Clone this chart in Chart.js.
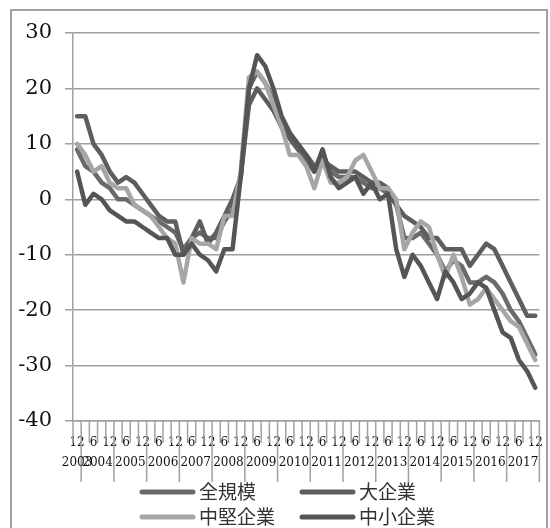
<!DOCTYPE html>
<html>
<head>
<meta charset="utf-8">
<script src="https://cdn.jsdelivr.net/npm/chart.js@4.4.0/dist/chart.umd.min.js"></script>
<style>
  body { margin: 0; background: #fff; }
  #wrap { width: 550px; height: 528px; }
</style>
</head>
<body>
<div id="wrap"><canvas id="c" width="550" height="528"></canvas></div>
<script>
// quarterly survey dates (year/month)
const categories = [
  '2003/12',
  '2004/3', '2004/6', '2004/9', '2004/12',
  '2005/3', '2005/6', '2005/9', '2005/12',
  '2006/3', '2006/6', '2006/9', '2006/12',
  '2007/3', '2007/6', '2007/9', '2007/12',
  '2008/3', '2008/6', '2008/9', '2008/12',
  '2009/3', '2009/6', '2009/9', '2009/12',
  '2010/3', '2010/6', '2010/9', '2010/12',
  '2011/3', '2011/6', '2011/9', '2011/12',
  '2012/3', '2012/6', '2012/9', '2012/12',
  '2013/3', '2013/6', '2013/9', '2013/12',
  '2014/3', '2014/6', '2014/9', '2014/12',
  '2015/3', '2015/6', '2015/9', '2015/12',
  '2016/3', '2016/6', '2016/9', '2016/12',
  '2017/3', '2017/6', '2017/9', '2017/12'
];

const seriesNames = ['全規模', '大企業', '中堅企業', '中小企業'];

const allSizes = [9, 6, 5, 3, 2, 0, 0, -1, -2, -3, -4, -5, -6, -9, -7, -6, -7, -7, -4, -2, 4,
  20, 23, 21, 18, 14, 11, 9, 7, 5, 8, 5, 4, 4, 4, 3, 2, 2, 1, -1, -7,
  -7, -6, -8, -10, -13, -11, -12, -15, -15, -14, -15, -17, -20, -22, -25, -28];

const large = [15, 15, 10, 8, 5, 3, 4, 3, 1, -1, -3, -4, -4, -10, -7, -4, -8, -6, -3, 0, 4,
  17, 20, 18, 16, 13, 11, 9, 8, 6, 7, 6, 5, 5, 5, 4, 3, 3, 2, -1, -3,
  -4, -5, -7, -7, -9, -9, -9, -12, -10, -8, -9, -12, -15, -18, -21, -21];

const medium = [10, 8, 5, 6, 3, 2, 2, -1, -2, -3, -5, -7, -8, -15, -7, -8, -8, -9, -3, -3, 5,
  22, 23, 21, 17, 13, 8, 8, 6, 2, 7, 3, 3, 4, 7, 8, 5, 2, 2, 0, -9,
  -6, -4, -5, -10, -14, -10, -14, -19, -18, -16, -18, -20, -22, -23, -26, -29];

const small = [5, -1, 1, 0, -2, -3, -4, -4, -5, -6, -7, -7, -10, -10, -8, -10, -11, -13, -9, -9, 4,
  20, 26, 24, 20, 15, 12, 10, 8, 5, 9, 4, 2, 3, 4, 1, 3, 0, 1, -9, -14,
  -10, -12, -15, -18, -13, -15, -18, -17, -15, -16, -20, -24, -25, -29, -31, -34];

const seriesValues = [allSizes, large, medium, small];
const seriesColors = ['#6a6a6a', '#5e5e5e', '#a6a6a6', '#555555'];

const yTicks = [-40, -30, -20, -10, 0, 10, 20, 30];

// year row, separators, tick marks, legend and frame
const decor = {
  id: 'decor',
  afterDraw(chart) {
    const { ctx, chartArea: a, scales: { x } } = chart;
    const n = categories.length;
    const bound = i => i < 0 ? a.left : (i >= n - 1 ? a.right
      : (x.getPixelForValue(i) + x.getPixelForValue(i + 1)) / 2);

    ctx.save();
    ctx.strokeStyle = '#a0a0a0';
    ctx.lineWidth = 1.5;
    for (let i = -1; i < n; i++) {
      const bx = bound(i);
      const yearEnd = i >= 0 && categories[i].endsWith('/12');
      ctx.beginPath();
      ctx.moveTo(bx, a.bottom);
      ctx.lineTo(bx, a.bottom + (yearEnd ? 61 : 22));
      ctx.stroke();
    }

    ctx.font = '12px "DejaVu Serif"';
    ctx.fillStyle = '#111';
    ctx.textAlign = 'center';
    ctx.textBaseline = 'middle';
    let start = -1;
    for (let i = 0; i < n; i++) {
      if (categories[i].endsWith('/12')) {
        ctx.fillText(categories[i].split('/')[0], (bound(start) + bound(i)) / 2, a.bottom + 42);
        start = i;
      }
    }

    // legend, 2 x 2
    const spots = [[140, 492], [300, 492], [140, 517], [300, 517]];
    ctx.font = '19px "Noto Sans CJK JP"';
    ctx.textAlign = 'left';
    ctx.lineCap = 'round';
    ctx.lineWidth = 5;
    seriesNames.forEach((name, k) => {
      const [lx, ly] = spots[k];
      ctx.strokeStyle = seriesColors[k];
      ctx.beginPath();
      ctx.moveTo(lx + 2, ly);
      ctx.lineTo(lx + 53, ly);
      ctx.stroke();
      ctx.fillStyle = '#333';
      ctx.fillText(name, lx + 59, ly);
    });

    ctx.strokeStyle = '#a0a0a0';
    ctx.lineWidth = 2;
    ctx.strokeRect(11, 10, 536, 530);
    ctx.restore();
  }
};

new Chart(document.getElementById('c'), {
  type: 'line',
  data: {
    labels: categories,
    datasets: seriesNames.map((name, k) => ({
      label: name,
      data: seriesValues[k],
      borderColor: seriesColors[k],
      backgroundColor: seriesColors[k],
      borderWidth: 4.5,
      pointRadius: 0,
      tension: 0,
      borderJoinStyle: 'round',
      borderCapStyle: 'round',
      order: 4 - k
    }))
  },
  options: {
    responsive: false,
    animation: false,
    devicePixelRatio: 1,
    layout: { padding: { top: 33, right: 10, left: 0, bottom: 0 } },
    plugins: { legend: { display: false }, tooltip: { enabled: false } },
    scales: {
      x: {
        offset: true,
        grid: { display: false },
        border: { display: true, color: '#a0a0a0', width: 1.5 },
        ticks: {
          autoSkip: false,
          maxRotation: 0,
          padding: 7,
          color: '#111',
          font: { family: 'DejaVu Serif', size: 12 },
          callback: function (v) {
            const m = categories[v].split('/')[1];
            return (m === '12' || m === '6') ? m : '';
          }
        },
        afterFit: s => { s.height = 107; }
      },
      y: {
        min: -40,
        max: 30,
        afterBuildTicks: s => { s.ticks = yTicks.map(v => ({ value: v })); },
        grid: { color: '#a0a0a0', lineWidth: 1.5, tickLength: 8 },
        border: { display: true, color: '#a0a0a0', width: 1.5 },
        ticks: {
          padding: 13,
          color: '#111',
          font: { family: 'DejaVu Serif', size: 21 }
        },
        afterFit: s => { s.width = 73; }
      }
    }
  },
  plugins: [decor]
});
</script>
</body>
</html>
